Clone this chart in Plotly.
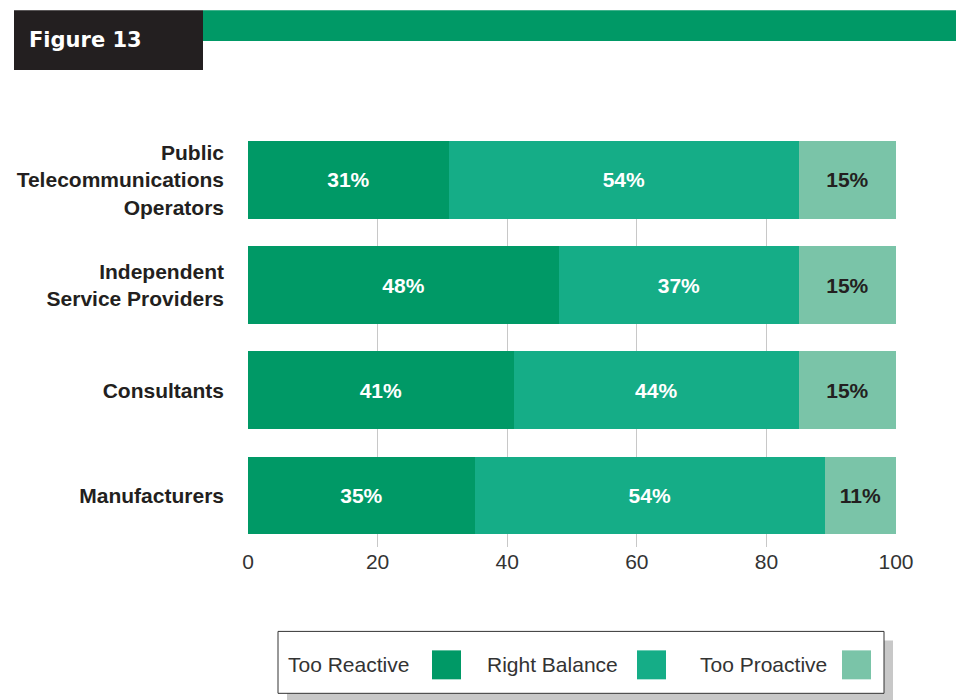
import plotly.graph_objects as go

# Survey responses by respondent group (percent)
categories = [
    "Public<br>Telecommunications<br>Operators",
    "Independent<br>Service Providers",
    "Consultants",
    "Manufacturers",
]
too_reactive = [31, 48, 41, 35]
right_balance = [54, 37, 44, 54]
too_proactive = [15, 15, 15, 11]

series_names = ["Too Reactive", "Right Balance", "Too Proactive"]
series_colors = ["#009966", "#15AD87", "#7AC4A8"]
label_colors = ["white", "white", "#231f20"]
x_ticks = [0, 20, 40, 60, 80, 100]

FONT = "Liberation Sans, Arial, sans-serif"
W, H = 956, 700
L, R = 248, 896          # plot area, pixels
T, B = 141, 547.5

def px(x):
    return (x - L) / (R - L)

def py(y):
    return (B - y) / (B - T)

fig = go.Figure()
for name, vals, col, lc in zip(series_names,
                               [too_reactive, right_balance, too_proactive],
                               series_colors, label_colors):
    fig.add_trace(go.Bar(
        y=categories, x=vals, orientation="h", name=name,
        marker=dict(color=col, line=dict(width=0)),
        width=0.74,
        text=[f"{v}%" for v in vals],
        textposition="inside", insidetextanchor="middle", textangle=0,
        insidetextfont=dict(family=FONT, size=21, color=lc, weight="bold"),
        hoverinfo="skip",
    ))

shapes = []
annotations = []

# header block and band
shapes.append(dict(type="rect", xref="paper", yref="paper",
                   x0=px(14), x1=px(203), y0=py(70), y1=py(10),
                   fillcolor="#231f20", line=dict(width=0), layer="above"))
shapes.append(dict(type="rect", xref="paper", yref="paper",
                   x0=px(203), x1=px(956), y0=py(41), y1=py(10),
                   fillcolor="#009966", line=dict(width=0), layer="above"))
annotations.append(dict(text="Figure 13", xref="paper", yref="paper",
                        x=px(27), y=py(40), xanchor="left", yanchor="middle",
                        showarrow=False,
                        font=dict(family="DejaVu Sans, sans-serif",
                                  size=21, color="white", weight="bold")))

# legend box with drop shadow
shapes.append(dict(type="rect", xref="paper", yref="paper",
                   x0=px(287), x1=px(893), y0=py(703), y1=py(641),
                   fillcolor="#c8c8c8", line=dict(width=0), layer="above"))
shapes.append(dict(type="rect", xref="paper", yref="paper",
                   x0=px(278), x1=px(884), y0=py(694), y1=py(632),
                   fillcolor="white", line=dict(color="#333333", width=1),
                   layer="above"))
legend_text_x = [286, 485, 698]
legend_swatch_x = [432, 637, 842]
for name, col, tx, sx in zip(series_names, series_colors,
                             legend_text_x, legend_swatch_x):
    annotations.append(dict(text=name, xref="paper", yref="paper",
                            x=px(tx), y=py(665), xanchor="left",
                            yanchor="middle", showarrow=False,
                            font=dict(family=FONT, size=21, color="#333333")))
    shapes.append(dict(type="rect", xref="paper", yref="paper",
                       x0=px(sx), x1=px(sx + 29), y0=py(680), y1=py(651),
                       fillcolor=col, line=dict(width=0), layer="above"))

fig.update_layout(
    width=W, height=H,
    margin=dict(l=L, r=W - R, t=T, b=H - B, pad=0),
    paper_bgcolor="white", plot_bgcolor="white",
    barmode="stack", showlegend=False,
    shapes=shapes, annotations=annotations,
    xaxis=dict(range=[0, 100], tickvals=x_ticks, showgrid=True,
               gridcolor="#c8c8c8", gridwidth=1, zeroline=False,
               showline=False, ticks="",
               tickfont=dict(family=FONT, size=21, color="#333333"),
               fixedrange=True),
    yaxis=dict(type="category", categoryorder="array",
               categoryarray=categories, range=[3.49, -0.37],
               showgrid=False, zeroline=False, showline=False, ticks="",
               ticklabelstandoff=23,
               tickfont=dict(family=FONT, size=21, color="#231f20",
                             weight="bold"),
               fixedrange=True),
)

fig.write_html("out.html")
